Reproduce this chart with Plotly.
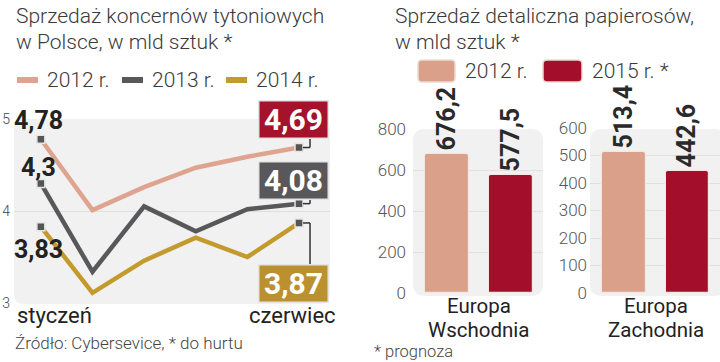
import plotly.graph_objects as go

# ---------------- data ----------------
months = ["styczeń", "luty", "marzec", "kwiecień", "maj", "czerwiec"]
series_names = ["2012 r.", "2013 r.", "2014 r."]
sales_2012 = [4.78, 4.01, 4.26, 4.47, 4.59, 4.69]
sales_2013 = [4.3, 3.34, 4.05, 3.78, 4.02, 4.08]
sales_2014 = [3.83, 3.11, 3.46, 3.71, 3.50, 3.87]
left_yticks = [3, 4, 5]

regions = [["Europa", "Wschodnia"], ["Europa", "Zachodnia"]]
bar_years = ["2012 r.", "2015 r. *"]
retail_east = [676.2, 577.5]
retail_west = [513.4, 442.6]
east_yticks = [0, 200, 400, 600, 800]
west_yticks = [0, 100, 200, 300, 400, 500, 600]

# ---------------- style ----------------
W, H = 720, 362
FONT = "Roboto"
line_colors = ["#dfa48f", "#58585a", "#c39a2e"]
box_colors = ["#a5122b", "#58585a", "#bb9130"]
bar_colors = ["#daa08a", "#a30f2b"]
TXT = "#2a2a2a"

def X(px):
    return px / W

def Y(py):
    return 1 - py / H

def rrect(x0, y0, x1, y1, r):
    """rounded rectangle path in paper coords from pixel coords"""
    return (f"M {X(x0+r)} {Y(y0)} L {X(x1-r)} {Y(y0)} Q {X(x1)} {Y(y0)} {X(x1)} {Y(y0+r)} "
            f"L {X(x1)} {Y(y1-r)} Q {X(x1)} {Y(y1)} {X(x1-r)} {Y(y1)} "
            f"L {X(x0+r)} {Y(y1)} Q {X(x0)} {Y(y1)} {X(x0)} {Y(y1-r)} "
            f"L {X(x0)} {Y(y0+r)} Q {X(x0)} {Y(y0)} {X(x0+r)} {Y(y0)} Z")

def fmt(v):
    return str(v).replace(".", ",")

fig = go.Figure()
series = [sales_2012, sales_2013, sales_2014]
xi = list(range(len(months)))

for name, vals, col in zip(series_names, series, line_colors):
    fig.add_trace(go.Scatter(x=xi, y=vals, mode="lines", name=name,
                             line=dict(color=col, width=4.5), xaxis="x", yaxis="y",
                             showlegend=False, cliponaxis=False))
# endpoint markers
for vals in series:
    fig.add_trace(go.Scatter(x=[xi[0], xi[-1]], y=[vals[0], vals[-1]], mode="markers",
                             marker=dict(symbol="square", size=8, color="#555555",
                                         line=dict(color="#e6e6e6", width=1.5)),
                             xaxis="x", yaxis="y", showlegend=False, cliponaxis=False))

# bars
for vals, xa, ya in [(retail_east, "x2", "y2"), (retail_west, "x3", "y3")]:
    fig.add_trace(go.Bar(x=[0, 1], y=vals, width=0.69, xaxis=xa, yaxis=ya,
                         marker=dict(color=bar_colors, line=dict(color="#f4e6e0", width=1.2),
                                     cornerradius=3),
                         text=[fmt(v) for v in vals], textposition="outside", textangle=-90,
                         textfont=dict(family=FONT, size=25, color=TXT, weight="bold"),
                         constraintext="none", cliponaxis=False, showlegend=False))

shapes = []
annotations = []

# backgrounds
shapes.append(dict(type="path", path=rrect(14, 119, 330, 304, 10), xref="paper", yref="paper",
                   fillcolor="#f1f1f1", line=dict(width=0), layer="below"))
shapes.append(dict(type="path", path=rrect(413, 129, 543, 296, 12), xref="paper", yref="paper",
                   fillcolor="#f1f1f1", line=dict(width=0), layer="below"))
shapes.append(dict(type="path", path=rrect(590, 129, 726, 296, 12), xref="paper", yref="paper",
                   fillcolor="#f1f1f1", line=dict(width=0), layer="below"))

# titles
TITLE_FONT = dict(family=FONT, size=21, color="#3a3a3a", weight=300)
for txt, x0 in [("Sprzedaż koncernów tytoniowych", 14), ("Sprzedaż detaliczna papierosów,", 393)]:
    annotations.append(dict(text=txt, x=X(x0), y=Y(16), xref="paper", yref="paper",
                            xanchor="left", yanchor="middle", showarrow=False, font=TITLE_FONT))
for txt, x0 in [("w Polsce, w mld sztuk *", 14), ("w mld sztuk *", 393)]:
    annotations.append(dict(text=txt, x=X(x0), y=Y(42), xref="paper", yref="paper",
                            xanchor="left", yanchor="middle", showarrow=False, font=TITLE_FONT))

# left legend
leg_x = [17, 122, 226]
for name, col, lx in zip(series_names, line_colors, leg_x):
    shapes.append(dict(type="line", x0=X(lx), x1=X(lx + 21), y0=Y(80), y1=Y(80),
                       xref="paper", yref="paper", line=dict(color=col, width=6)))
    annotations.append(dict(text=name, x=X(lx + 28), y=Y(80), xref="paper", yref="paper",
                            xanchor="left", yanchor="middle", showarrow=False, font=TITLE_FONT))

# right legend
rleg = [(418, 455), (543, 582)]
for name, col, (a, b) in zip(bar_years, bar_colors, rleg):
    shapes.append(dict(type="path", path=rrect(a, 60, b, 82, 4), xref="paper", yref="paper",
                       fillcolor=col, line=dict(color="#eadad4", width=1.5)))
    annotations.append(dict(text=name, x=X(b + 8), y=Y(71), xref="paper", yref="paper",
                            xanchor="left", yanchor="middle", showarrow=False, font=TITLE_FONT))

# start labels (January)
start_shift = [19, 16, -23]
for vals, ys in zip(series, start_shift):
    annotations.append(dict(text=fmt(vals[0]), x=xi[0], y=vals[0], xref="x", yref="y",
                            xanchor="center", yanchor="middle", xshift=-2, yshift=ys,
                            showarrow=False,
                            font=dict(family=FONT, size=25, color="#222", weight="bold")))

# end labels (June) in boxes with connectors
end_shift = [28.5, 23.5, -60.5]
for vals, col, ys in zip(series, box_colors, end_shift):
    annotations.append(dict(text=fmt(vals[-1]), x=xi[-1], y=vals[-1], xref="x", yref="y",
                            xanchor="center", yanchor="middle", xshift=-6, yshift=ys,
                            showarrow=False, width=66, height=34, bgcolor=col,
                            bordercolor="#e4e4e4", borderwidth=1.5, borderpad=1,
                            font=dict(family=FONT, size=30, color="white", weight="bold")))
    edge = ys - 19.5 if ys > 0 else ys + 19.5
    shapes.append(dict(type="line", xref="x", yref="y", xsizemode="pixel", xanchor=xi[-1],
                       x0=4, x1=11, y0=vals[-1], y1=vals[-1],
                       line=dict(color="#333", width=1.5)))
    shapes.append(dict(type="line", xref="x", yref="y", xsizemode="pixel", xanchor=xi[-1],
                       ysizemode="pixel", yanchor=vals[-1],
                       x0=11, x1=11, y0=0, y1=edge,
                       line=dict(color="#333", width=1.5)))

# month labels
LBL_FONT = dict(family=FONT, size=22, color="#222")
annotations.append(dict(text=months[0], x=xi[0], y=Y(315), xref="x", yref="paper",
                        xanchor="left", yanchor="middle", xshift=-26, showarrow=False,
                        font=LBL_FONT))
annotations.append(dict(text=months[-1], x=xi[-1], y=Y(315), xref="x", yref="paper",
                        xanchor="right", yanchor="middle", xshift=39, showarrow=False,
                        font=LBL_FONT))

# region labels under bar groups (two tight lines)
for reg, xa in zip(regions, ["x2", "x3"]):
    for line_txt, py in zip(reg, [306, 330]):
        annotations.append(dict(text=line_txt, x=0.5, y=Y(py), xref=xa, yref="paper",
                                xanchor="center", yanchor="middle", showarrow=False,
                                font=dict(family=FONT, size=20.5, color="#222")))

# footers
FOOT = dict(family=FONT, size=17, color="#444", weight=300)
annotations.append(dict(text="Źródło: Cybersevice, * do hurtu", x=X(13), y=Y(343),
                        xref="paper", yref="paper", xanchor="left", yanchor="middle",
                        showarrow=False, font=FOOT))
annotations.append(dict(text="* prognoza", x=X(372), y=Y(351),
                        xref="paper", yref="paper", xanchor="left", yanchor="middle",
                        showarrow=False, font=dict(family=FONT, size=16.5, color="#444",
                                                   weight=300)))

axis_common = dict(showline=False, zeroline=False, ticks="", fixedrange=True, automargin=False)

fig.update_layout(
    width=W, height=H, margin=dict(l=0, r=0, t=0, b=0, pad=0),
    paper_bgcolor="white", plot_bgcolor="rgba(0,0,0,0)",
    showlegend=False, bargap=0,
    font=dict(family=FONT),
    xaxis=dict(domain=[X(14), X(330)], range=[-0.52, 5.60], showgrid=False,
               showticklabels=False, anchor="y", **axis_common),
    yaxis=dict(domain=[Y(303), Y(119)], range=[3, 5], tickvals=left_yticks,
               showgrid=True, gridcolor="#dedede", gridwidth=1, anchor="x",
               tickfont=dict(family=FONT, size=14, color="#444", weight=300),
               ticklabelstandoff=3, **axis_common),
    xaxis2=dict(domain=[X(413), X(543)], range=[-0.53, 1.5], showgrid=False,
                showticklabels=False, anchor="y2", **axis_common),
    yaxis2=dict(domain=[Y(293), Y(129)], range=[0, 800], tickvals=east_yticks,
                showgrid=True, gridcolor="#e0e0e0", anchor="x2",
                tickfont=dict(family=FONT, size=17, color="#555", weight=300),
                ticklabelstandoff=6, **axis_common),
    xaxis3=dict(domain=[X(590), X(720)], range=[-0.535, 1.512], showgrid=False,
                showticklabels=False, anchor="y3", **axis_common),
    yaxis3=dict(domain=[Y(293), Y(128)], range=[0, 600], tickvals=west_yticks,
                showgrid=True, gridcolor="#e0e0e0", anchor="x3",
                tickfont=dict(family=FONT, size=17, color="#555", weight=300),
                ticklabelstandoff=2, **axis_common),
    shapes=shapes, annotations=annotations,
)

fig.write_html("out.html", config={"displayModeBar": False},
               post_script="document.body.style.margin='0';document.body.style.padding='0';"
                           "document.documentElement.style.overflow='hidden';")
